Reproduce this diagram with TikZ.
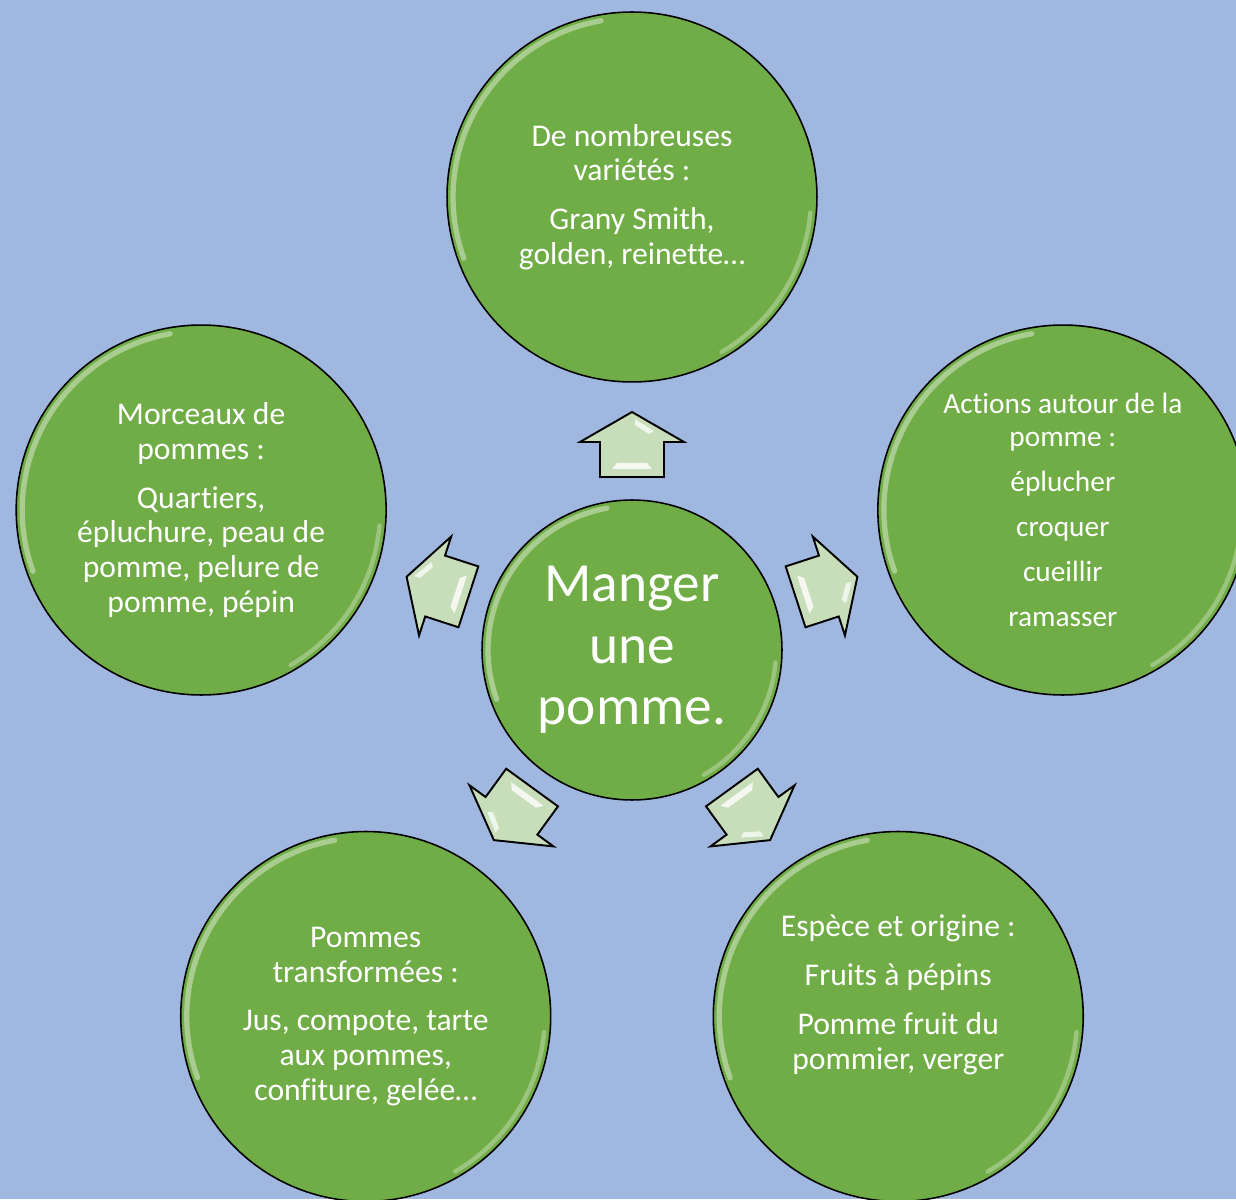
\documentclass[tikz,border=0pt]{standalone}
\usepackage{fontspec}
\setmainfont{Carlito}[Ligatures=NoCommon]
\usepackage{tikz}
\usetikzlibrary{calc}
\usetikzlibrary{positioning}

\definecolor{fond}{RGB}{160,183,224}
\definecolor{pomme}{RGB}{112,173,71}
\definecolor{flechevert}{RGB}{200,222,187}

\tikzset{
  gloss/.style={path picture={
    \draw[white,opacity=.4,line width=3pt,line cap=round]
      ([shift={(100:#1)}]path picture bounding box.center) arc (100:200:#1);
    \draw[white,opacity=.3,line width=2.5pt,line cap=round]
      ([shift={(-5:#1)}]path picture bounding box.center) arc (-5:-60:#1);
  }},
  ball/.style={circle,draw=black,line width=0.9pt,fill=pomme,text=white,
    minimum size=7.4cm,inner sep=0pt,align=center,
    font=\fontsize{18}{19.8}\selectfont,gloss=3.58cm},
  bigball/.style={ball,minimum size=6cm,font=\fontsize{31.5}{35}\selectfont,gloss=2.88cm},
  fleche/.pic={
    \draw[fill=flechevert,line width=1.1pt,line join=miter]
      (0,33) -- (52,3) -- (32,3) -- (32,-32) -- (-32,-32) -- (-32,3) -- (-52,3) -- cycle;
    \fill[white,opacity=.8] (-20,-24) -- (20,-24) -- (15,-18) -- (-15,-18) -- cycle;
    \fill[white,opacity=.7] (3,26) -- (22,14) -- (17,11) -- (3,20) -- cycle;
  }
}

\begin{document}
\begin{tikzpicture}[x=0.02cm,y=0.02cm]

\fill[fond] (-632,-549) rectangle (604,650);
\useasboundingbox (-632,-549) rectangle (604,650);

\node[bigball] (centre) at (0,0) {Manger\\ une\\ pomme.};

\node[ball] (varietes) at (90:453) {De nombreuses\\ variétés :\\[8pt] Grany Smith,\\ golden, reinette…};
\node[ball,font=\fontsize{16.7}{18.7}\selectfont] (actions) at (18:453) {Actions autour de la\\ pomme :\\[7pt] éplucher\\[7pt] croquer\\[7pt] cueillir\\[7pt] ramasser};
\node[ball] (espece) at (-54:453) {Espèce et origine :\\[8pt] Fruits à pépins\\[8pt] Pomme fruit du\\ pommier, verger\\[8pt]\mbox{}};
\node[ball] (transfo) at (-126:453) {Pommes\\ transformées :\\[8pt] Jus, compote, tarte\\ aux pommes,\\ confiture, gelée…};
\node[ball] (morceaux) at (162:453) {Morceaux de\\ pommes :\\[8pt] Quartiers,\\ épluchure, peau de\\ pomme, pelure de\\ pomme, pépin};

% fleches
\pic at (90:205) {fleche};
\pic[rotate=-72] at (18:204) {fleche};
\pic[rotate=-144] at (-54:202) {fleche};
\pic[rotate=144] at (-126:202) {fleche};
\pic[rotate=72] at (162:204) {fleche};

\end{tikzpicture}
\end{document}
